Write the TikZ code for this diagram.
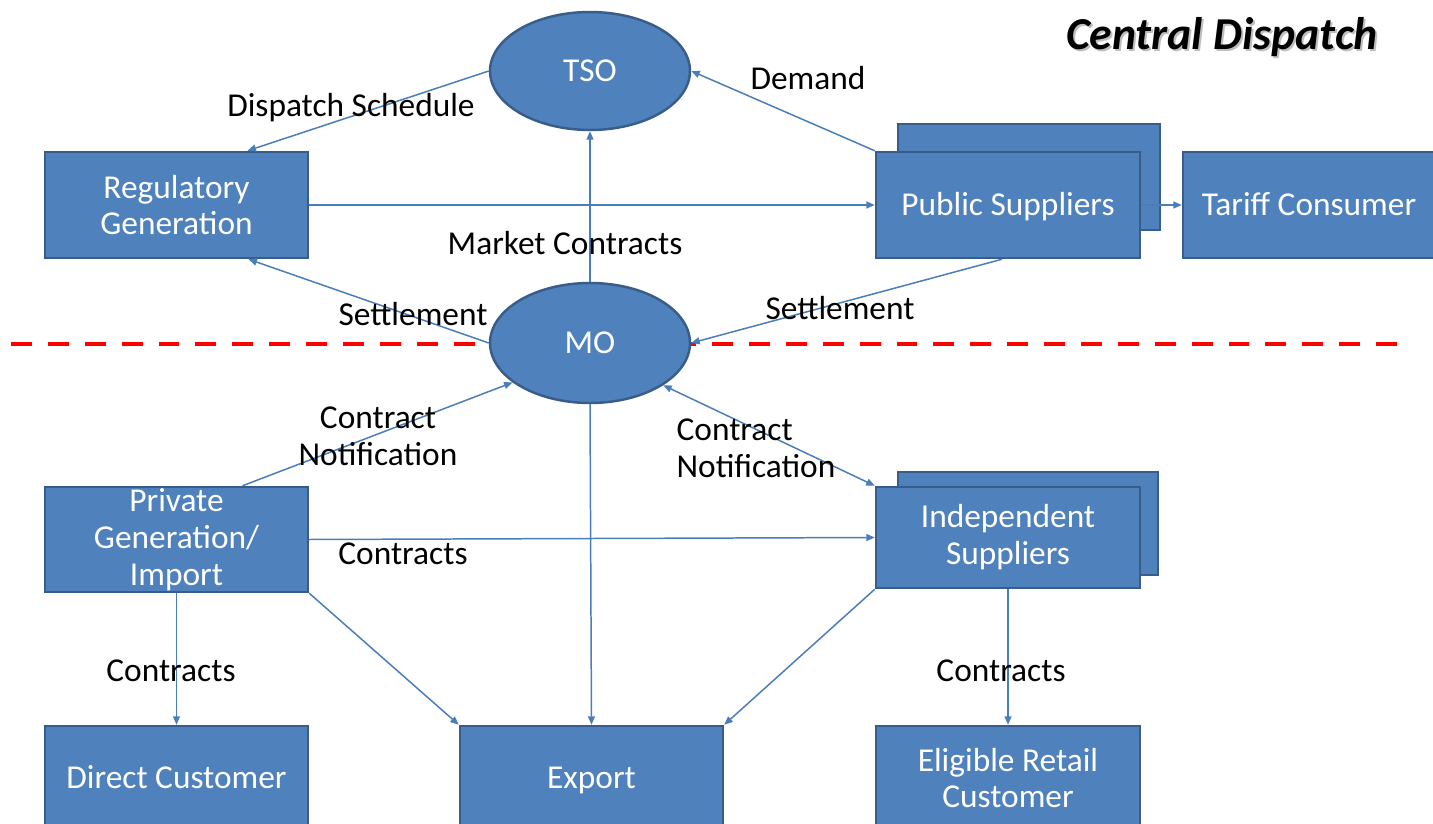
\documentclass[tikz,border=0pt]{standalone}
\usepackage{fontspec}
\setmainfont{Carlito}
\usetikzlibrary{arrows.meta,shapes.geometric,calc}
\definecolor{boxfill}{HTML}{4F81BD}
\definecolor{boxline}{HTML}{385D8A}
\definecolor{arrowc}{HTML}{4A7EBB}
\definecolor{dashred}{HTML}{FF0000}
\tikzset{
  blk/.style={rectangle, draw=boxline, line width=1.4pt, fill=boxfill, text=white, align=center, inner sep=0pt,
    font=\fontsize{19}{21}\selectfont},
  oneline/.style={text height=12.2pt, text depth=0pt},
  oval/.style={ellipse, draw=boxline, line width=1.4pt, fill=boxfill, text=white, inner sep=0pt,
    minimum width=4cm, font=\fontsize{19}{21}\selectfont},
  lbl/.style={inner sep=0pt, text=black, font=\fontsize{19}{21}\selectfont},
  conn/.style={draw=arrowc, line width=0.85pt, -{Triangle[length=0.17cm,width=0.14cm]}},
  bconn/.style={draw=arrowc, line width=0.85pt, {Triangle[length=0.17cm,width=0.14cm]}-{Triangle[length=0.17cm,width=0.14cm]}},
  sepline/.style={draw=dashred, line width=2.8pt, dash pattern=on 11.9pt off 9.1pt}
}
\begin{document}
\begin{tikzpicture}[x=0.02cm,y=-0.02cm]
\useasboundingbox (0,0) rectangle (1433,824);
% title
\node[inner sep=0pt, font=\fontsize{26}{30}\selectfont\bfseries\itshape, text=black!25] at (1224,39) {Central Dispatch};
\node[inner sep=0pt, font=\fontsize{26}{30}\selectfont\bfseries\itshape] (title) at (1222,37) {Central Dispatch};
% separator
\draw[sepline] (11,344) -- (1408,344);
% nodes
\node[oval, oneline, minimum width=200*0.02cm, minimum height=118*0.02cm] (tso) at (590,71) {TSO};
\node[oval, oneline, minimum width=200*0.02cm, minimum height=120*0.02cm] (mo) at (590,343) {MO};
\node[blk, minimum width=263*0.02cm, minimum height=106*0.02cm] (reg) at (176.5,205) {Regulatory\\Generation};
\node[blk, minimum width=262*0.02cm, minimum height=106*0.02cm] (pubb) at (1029,177) {};
\node[blk, oneline, minimum width=264*0.02cm, minimum height=106*0.02cm] (pub) at (1008,205) {Public Suppliers};
\node[blk, oneline, minimum width=252*0.02cm, minimum height=106*0.02cm] (tar) at (1309,205) {Tariff Consumer};
\node[blk, minimum width=263*0.02cm, minimum height=105*0.02cm] (priv) at (176.5,539.5) {Private\\Generation/\\Import};
\node[blk, minimum width=260*0.02cm, minimum height=103*0.02cm] (indb) at (1028,523.5) {};
\node[blk, minimum width=264*0.02cm, minimum height=101*0.02cm] (ind) at (1008,537.5) {Independent\\Suppliers};
\node[blk, oneline, minimum width=263*0.02cm, minimum height=104*0.02cm] (dir) at (176.5,778) {Direct Customer};
\node[blk, oneline, minimum width=263*0.02cm, minimum height=104*0.02cm] (exp) at (591.5,778) {Export};
\node[blk, minimum width=264*0.02cm, minimum height=104*0.02cm] (elig) at (1008,778) {Eligible Retail\\Customer};
% connectors
\draw[conn] (tso.west) -- ($(reg.north)+(71,0)$);
\draw[conn] (pub.north west) -- (tso.east);
\draw[conn] (reg.east) -- (pub.west);
\draw[conn] (mo.north) -- (tso.south);
\draw[conn] (mo.west) -- ($(reg.south)+(72,0)$);
\draw[conn] ($(pub.south)+(-6,0)$) -- (mo.east);
\draw[conn] (pub.east) -- (tar.west);
\draw[conn] ($(priv.north)+(66,0)$) -- (mo.207);
\draw[bconn] (mo.330) -- (ind.north west);
\draw[conn] (priv.east) -- (ind.west);
\draw[conn] (priv.south) -- (dir.north);
\draw[conn] (priv.south east) -- (exp.north west);
\draw[conn] (mo.south) -- (exp.north);
\draw[conn] (ind.south west) -- (exp.north east);
\draw[conn] (ind.south) -- (elig.north);
% labels
\node[lbl] (l1) at (351,108) {Dispatch Schedule};
\node[lbl] (l2) at (808,78) {Demand};
\node[lbl] (l3) at (565,243) {Market Contracts};
\node[lbl] (l4) at (413,314) {Settlement};
\node[lbl] (l5) at (840,308) {Settlement};
\node[lbl, align=center] (l6) at (378,436) {Contract\\Notification};
\node[lbl, align=left] (l7) at (756,448) {Contract\\Notification};
\node[lbl] (l8) at (403,554) {Contracts};
\node[lbl] (l9) at (171,671) {Contracts};
\node[lbl] (l10) at (1001,671) {Contracts};
\end{tikzpicture}
\end{document}
